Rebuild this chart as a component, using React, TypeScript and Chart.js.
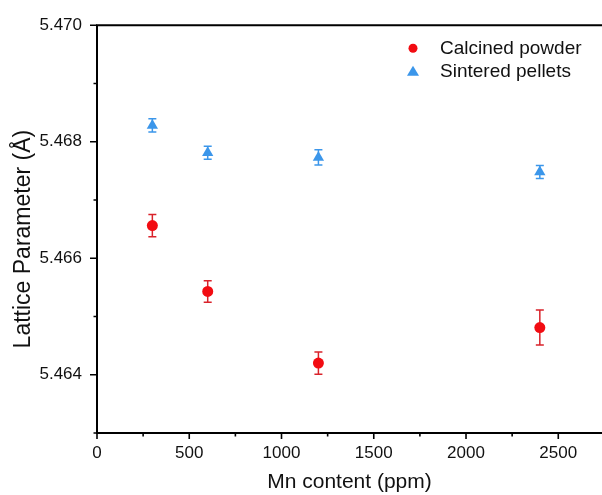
import React, { useEffect, useRef } from "react";
import { Chart, registerables } from "chart.js";

Chart.register(...registerables);

const mnContent = [300, 600, 1200, 2400];
const calcinedValues = [5.46656, 5.46543, 5.4642, 5.46481];
const calcinedErrors = [0.00019, 0.000185, 0.00019, 0.0003];
const sinteredValues = [5.46828, 5.46781, 5.46773, 5.46748];
const sinteredErrors = [0.000115, 0.00011, 0.00013, 0.00011];

const xTickValues = [0, 250, 500, 750, 1000, 1250, 1500, 1750, 2000, 2250, 2500];
const yTickValues = [5.463, 5.464, 5.465, 5.466, 5.467, 5.468, 5.469, 5.47];

const seriesLabels = ["Calcined powder", "Sintered pellets"];
const xTitle = "Mn content (ppm)";
const yTitle = "Lattice Parameter (Å)";

const FONT = "'Liberation Sans', Arial, sans-serif";

export default function App() {
  const ref = useRef<HTMLCanvasElement | null>(null);

  useEffect(() => {
    document.body.style.margin = "0";
    const canvas = ref.current;
    if (!canvas) return;

    const errors = [calcinedErrors, sinteredErrors];
    const errColors = ["#d9232b", "#3b96ea"];

    const errorBars = {
      id: "errorBars",
      beforeDatasetsDraw(chart: any) {
        const ctx = chart.ctx;
        const y = chart.scales.y;
        chart.data.datasets.forEach((ds: any, i: number) => {
          const meta = chart.getDatasetMeta(i);
          ctx.save();
          ctx.strokeStyle = errColors[i];
          ctx.lineWidth = 1.5;
          meta.data.forEach((pt: any, j: number) => {
            const v = ds.data[j].y;
            const e = errors[i][j];
            const top = y.getPixelForValue(v + e);
            const bot = y.getPixelForValue(v - e);
            const px = pt.x;
            ctx.beginPath();
            ctx.moveTo(px, top);
            ctx.lineTo(px, bot);
            ctx.moveTo(px - 4, top);
            ctx.lineTo(px + 4, top);
            ctx.moveTo(px - 4, bot);
            ctx.lineTo(px + 4, bot);
            ctx.stroke();
          });
          ctx.restore();
        });
      },
    };

    const axesPlugin = {
      id: "axesDraw",
      afterDraw(chart: any) {
        const ctx = chart.ctx;
        const { left, right, top, bottom } = chart.chartArea;
        const xs = chart.scales.x;
        const ys = chart.scales.y;
        ctx.save();
        ctx.strokeStyle = "#000";
        ctx.lineWidth = 2;
        ctx.beginPath();
        ctx.moveTo(left, top);
        ctx.lineTo(right, top);
        ctx.moveTo(left, top - 1);
        ctx.lineTo(left, bottom + 1);
        ctx.moveTo(left - 1, bottom);
        ctx.lineTo(right, bottom);
        ctx.stroke();
        ctx.lineWidth = 1.6;
        ctx.beginPath();
        xTickValues.forEach((v) => {
          const px = xs.getPixelForValue(v);
          const len = v % 500 === 0 ? 6 : 3.5;
          ctx.moveTo(px, bottom);
          ctx.lineTo(px, bottom + len);
        });
        yTickValues.forEach((v) => {
          const py = ys.getPixelForValue(v);
          const major = Math.round(v * 1000) % 2 === 0;
          const len = major ? 7 : 3.5;
          ctx.moveTo(left, py);
          ctx.lineTo(left - len, py);
        });
        ctx.stroke();

        // y axis title
        ctx.fillStyle = "#111";
        ctx.font = `23px ${FONT}`;
        ctx.textAlign = "center";
        ctx.textBaseline = "middle";
        ctx.translate(24, (top + bottom) / 2 + 10);
        ctx.rotate(-Math.PI / 2);
        ctx.fillText(yTitle, 0, 0);
        ctx.restore();

        // legend
        ctx.save();
        const lx = right - 189;
        const rows = [top + 23, top + 46];
        chart.data.datasets.forEach((ds: any, i: number) => {
          const cy = rows[i];
          ctx.fillStyle = ds.backgroundColor;
          ctx.beginPath();
          if (i === 0) {
            ctx.arc(lx, cy, 4.5, 0, Math.PI * 2);
          } else {
            ctx.moveTo(lx, cy - 5.5);
            ctx.lineTo(lx + 6, cy + 4.5);
            ctx.lineTo(lx - 6, cy + 4.5);
            ctx.closePath();
          }
          ctx.fill();
          ctx.fillStyle = "#111";
          ctx.font = `19px ${FONT}`;
          ctx.textAlign = "left";
          ctx.textBaseline = "middle";
          ctx.fillText(ds.label, lx + 27, cy + 1);
        });
        ctx.restore();
      },
    };

    const chart = new Chart(canvas, {
      type: "scatter",
      data: {
        datasets: [
          {
            label: seriesLabels[0],
            data: mnContent.map((x, i) => ({ x, y: calcinedValues[i] })),
            backgroundColor: "#f20c12",
            borderColor: "#f20c12",
            pointStyle: "circle",
            pointRadius: 5.5,
            borderWidth: 0,
          },
          {
            label: seriesLabels[1],
            data: mnContent.map((x, i) => ({ x, y: sinteredValues[i] })),
            backgroundColor: "#3b96ea",
            borderColor: "#3b96ea",
            pointStyle: "triangle",
            pointRadius: 6.5,
            borderWidth: 0,
          },
        ],
      },
      options: {
        animation: false,
        responsive: false,
        maintainAspectRatio: false,
        layout: { autoPadding: false, padding: { top: 22, right: 0, left: 0, bottom: 0 } },
        plugins: {
          legend: { display: false },
          tooltip: { enabled: false },
        },
        scales: {
          x: {
            type: "linear",
            min: 0,
            max: 2737,
            afterBuildTicks: (s: any) => {
              s.ticks = xTickValues.map((v) => ({ value: v }));
            },
            afterFit: (s: any) => {
              s.height = 62;
            },
            grid: { display: false, drawTicks: false },
            border: { display: false },
            ticks: {
              autoSkip: false,
              maxRotation: 0,
              padding: 10,
              color: "#111",
              font: { family: FONT, size: 17 },
              callback: (v: any) => (Number(v) % 500 === 0 ? String(v) : ""),
            },
            title: {
              display: true,
              text: xTitle,
              color: "#111",
              font: { family: FONT, size: 21 },
              padding: { top: 5, bottom: 0 },
            },
          },
          y: {
            type: "linear",
            min: 5.463,
            max: 5.47,
            afterBuildTicks: (s: any) => {
              s.ticks = yTickValues.map((v) => ({ value: v }));
            },
            afterFit: (s: any) => {
              s.width = 97;
            },
            grid: { display: false, drawTicks: false },
            border: { display: false },
            ticks: {
              autoSkip: false,
              padding: 15,
              color: "#111",
              font: { family: FONT, size: 17 },
              callback: (v: any) =>
                Math.round(Number(v) * 1000) % 2 === 0 ? Number(v).toFixed(3) : "",
            },
          },
        },
      },
      plugins: [errorBars, axesPlugin],
    });

    return () => chart.destroy();
  }, []);

  return (
    <div style={{ position: "absolute", left: 0, top: 0, width: 602, height: 495, background: "#fff" }}>
      <canvas ref={ref} width={602} height={495} style={{ width: 602, height: 495, display: "block" }} />
    </div>
  );
}
